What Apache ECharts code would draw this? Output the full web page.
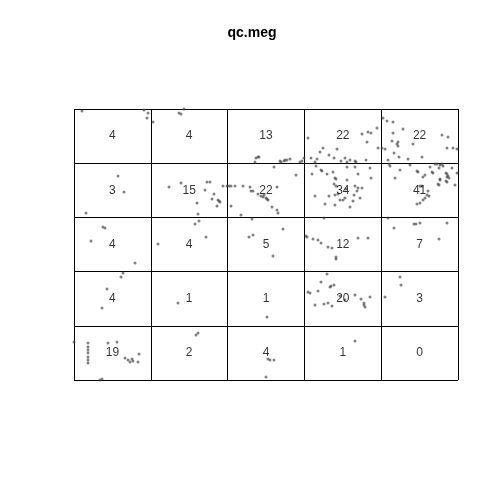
<!DOCTYPE html>
<html>
<head>
<meta charset="utf-8">
<script src="https://cdn.jsdelivr.net/npm/echarts@6/dist/echarts.min.js"></script>
<style>html,body{margin:0;padding:0;background:#fff;}#c{width:504px;height:504px;}</style>
</head>
<body>
<div id="c"></div>
<script>
// Window and quadrat breaks (data units)
var xBreaks = [0, 76.8, 153.6, 230.4, 307.2, 384];
var yBreaks = [0, 54.2, 108.4, 162.6, 216.8, 271];
// Quadrat counts, rows from top to bottom
var countsRow1 = [4, 4, 13, 22, 22];
var countsRow2 = [3, 15, 22, 34, 41];
var countsRow3 = [4, 4, 5, 12, 7];
var countsRow4 = [4, 1, 1, 20, 3];
var countsRow5 = [19, 2, 4, 1, 0];

// Point pattern (x, y) grouped by quadrat row (top to bottom)
var ptsRow1 = [[8,269],[70,270],[74,267],[73,262],
  [79,258],[105,267],[110,271],[107,266],
  [184,223],[185,223],[182,222],[181,218],[206,219],[207,218],[210,219],[211,220],[213,220],[216,221],[228,219],[230,222],[226,218],
  [234,242],[249,232],[246,228],[263,231],[260,222],[237,222],[243,221],[267,219],[288,246],[294,248],[297,247],[303,252],[293,238],[304,232],[292,220],[281,219],[282,218],[273,218],[276,220],[255,225],[271,222],[241,218],
  [309,262],[313,259],[319,258],[329,251],[319,247],[318,239],[324,238],[323,236],[324,234],[320,227],[325,223],[334,221],[339,236],[368,245],[374,243],[373,232],[379,232],[383,231],[311,231],[308,232],[348,223],[314,220]];
var ptsRow2 = [[44,204],[50,188],[12,167],
  [95,193],[107,197],[133,198],[136,198],[149,194],[153,194],[138,181],[144,180],[145,179],[146,178],[143,174],[123,177],[124,166],[131,190],[140,186],
  [155,194],[157,194],[161,194],[176,193],[177,189],[179,189],[187,184],[189,183],[192,182],[194,180],[193,181],[203,193],[198,173],[203,170],[204,167],[157,174],[167,165],[222,205],[200,213],[169,194],[184,186],[190,185],
  [242,214],[247,210],[248,209],[253,206],[238,206],[261,202],[262,201],[260,196],[262,194],[273,200],[272,191],[241,184],[255,184],[261,185],[264,186],[266,180],[269,180],[251,176],[261,175],[284,206],[273,213],[281,213],[296,212],[297,202],[281,194],[284,192],[283,189],[288,192],[280,185],[286,182],[279,179],[271,182],[276,173],[259,208],
  [315,216],[316,214],[343,209],[351,205],[349,203],[358,208],[361,216],[363,216],[366,215],[368,216],[369,214],[365,212],[372,207],[373,206],[374,204],[373,203],[375,202],[383,207],[366,200],[365,195],[373,198],[372,199],[348,194],[353,185],[355,184],[351,182],[349,180],[346,177],[343,176],[354,189],[344,208],[359,207],[366,201],[364,196],[346,194],[378,212],[326,210],[321,202],[336,215],[381,195],[356,213]];
var ptsRow3 = [[29,153],[31,152],[17,139],[61,117],
  [84,136],[121,156],[132,143],[125,159],
  [178,161],[209,151],[175,143],[179,145],[199,124],
  [232,144],[233,143],[239,141],[247,137],[254,133],[262,123],[262,121],[284,142],[294,142],[250,162],[244,140],[258,132],
  [314,162],[320,152],[340,156],[346,157],[373,157],[365,141],[342,156]];
var ptsRow4 = [[49,107],[47,103],[33,91],[28,72],
  [104,77],
  [193,63],
  [253,106],[247,98],[256,93],[234,88],[236,87],[257,94],[260,95],[254,77],[258,74],[287,81],[290,77],[291,73],[290,75],[296,83],[244,89],[241,75],[250,76],[266,84],[271,80],[281,85],
  [326,103],[327,95],[311,83]];
var ptsRow5 = [[14,37],[14,33],[14,30],[14,27],[14,23],[14,20],[14,17],[34,37],[43,38],[51,22],[54,20],[58,21],[59,19],[56,18],[64,18],[65,26],[28,1],[0,38],[26,0],
  [122,45],[124,47],
  [194,21],[196,20],[200,20],[192,3],
  [281,39]];

var titleText = 'qc.meg';

var allPts = [].concat(ptsRow1, ptsRow2, ptsRow3, ptsRow4, ptsRow5);
var countRows = [countsRow1, countsRow2, countsRow3, countsRow4, countsRow5];
var labelData = [];
for (var r = 0; r < 5; r++) {
  var yi = 4 - r;
  for (var c = 0; c < 5; c++) {
    labelData.push({
      value: [(xBreaks[c] + xBreaks[c+1]) / 2, (yBreaks[yi] + yBreaks[yi+1]) / 2],
      count: countRows[r][c]
    });
  }
}

var chart = echarts.init(document.getElementById('c'), null, {renderer: 'canvas'});
chart.setOption({
  backgroundColor: '#ffffff',
  animation: false,
  title: {
    text: titleText, left: 'center', top: 21,
    textStyle: {fontFamily: 'Liberation Sans, Arial, sans-serif', fontWeight: 'bold', fontSize: 14, color: '#000'}
  },
  grid: {left: 74, top: 109, width: 384, height: 271, show: false},
  xAxis: {
    type: 'value', min: 0, max: 384, interval: 76.8,
    axisLine: {show: false}, axisTick: {show: false}, axisLabel: {show: false},
    splitLine: {show: true, lineStyle: {color: '#000', width: 1}}
  },
  yAxis: {
    type: 'value', min: 0, max: 271, interval: 54.2,
    axisLine: {show: false}, axisTick: {show: false}, axisLabel: {show: false},
    splitLine: {show: true, lineStyle: {color: '#000', width: 1}}
  },
  series: [
    {
      type: 'scatter', data: allPts, symbol: 'circle', symbolSize: 3,
      itemStyle: {color: 'rgba(70,70,70,0.85)'}, silent: true, z: 3
    },
    {
      type: 'scatter', data: labelData, symbolSize: 0, silent: true, z: 4,
      label: {
        show: true, position: 'inside',
        formatter: function (p) { return String(p.data.count); },
        fontFamily: 'Liberation Sans, Arial, sans-serif', fontSize: 12, color: '#000'
      }
    }
  ]
});
</script>
</body>
</html>
